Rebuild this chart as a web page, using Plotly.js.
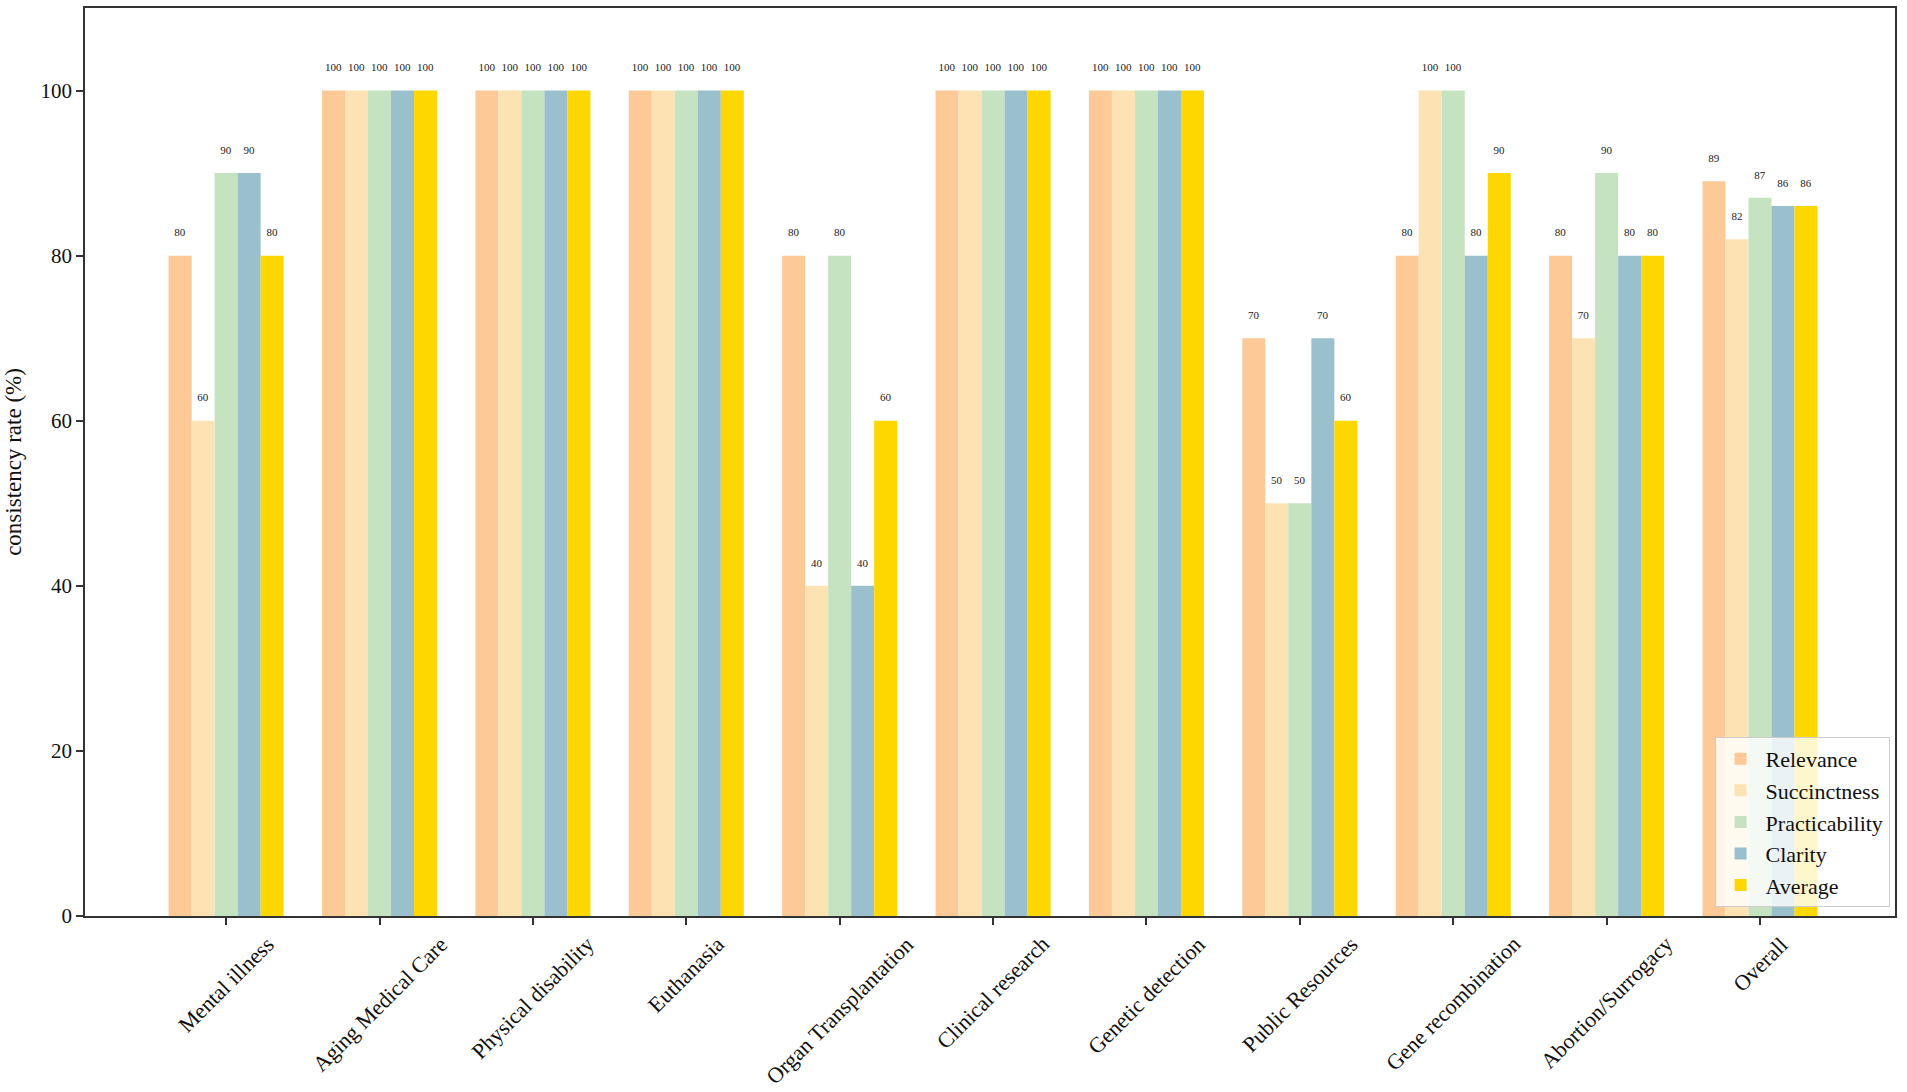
<!DOCTYPE html>
<html>
<head>
<meta charset="utf-8">
<script src="https://cdn.plot.ly/plotly-3.0.1.min.js"></script>
<style>
  body { margin: 0; background: #fff; }
  #chart { width: 1907px; height: 1092px; }
</style>
</head>
<body>
<div id="chart"></div>
<script>
// topics on the x axis
let categories = ['Mental illness', 'Aging Medical Care', 'Physical disability', 'Euthanasia',
  'Organ Transplantation', 'Clinical research', 'Genetic detection', 'Public Resources',
  'Gene recombination', 'Abortion/Surrogacy', 'Overall'];

// consistency rate per metric (%)
let relevance      = [80, 100, 100, 100, 80, 100, 100, 70, 80, 80, 89];
let succinctness   = [60, 100, 100, 100, 40, 100, 100, 50, 100, 70, 82];
let practicability = [90, 100, 100, 100, 80, 100, 100, 50, 100, 90, 87];
let clarity        = [90, 100, 100, 100, 40, 100, 100, 70, 80, 80, 86];
let average        = [80, 100, 100, 100, 60, 100, 100, 60, 90, 80, 86];

let seriesNames = ['Relevance', 'Succinctness', 'Practicability', 'Clarity', 'Average'];
let seriesValues = [relevance, succinctness, practicability, clarity, average];
let colors = ['#fdc997', '#fde3b3', '#c5e2c1', '#9abfcd', '#fed700'];

let yTicks = [0, 20, 40, 60, 80, 100];

let serif = 'Liberation Serif, Times New Roman, serif';

let traces = [];
for (let i = 0; i < seriesNames.length; i++) {
  traces.push({
    type: 'bar',
    name: seriesNames[i],
    x: categories,
    y: seriesValues[i],
    marker: { color: colors[i], line: { width: 0 } },
    text: seriesValues[i].map(String),
    // an empty line under the value lifts the label clear of the bar top
    texttemplate: '%{text}<br> ',
    textposition: 'outside',
    constraintext: 'none',
    cliponaxis: false,
    textfont: { family: serif, size: 11, color: '#222' },
    hoverinfo: 'x+y+name'
  });
}

// x labels centred under each tick, rotated like the original
let labelNotes = categories.map(function (c) {
  return {
    x: c,
    xref: 'x',
    y: 0,
    yref: 'paper',
    yanchor: 'top',
    xanchor: 'center',
    yshift: -13,
    textangle: -45,
    showarrow: false,
    text: c,
    font: { family: serif, size: 22, color: '#111' }
  };
});

let layout = {
  width: 1907,
  height: 1092,
  margin: { l: 85, r: 12, t: 8, b: 176 },
  paper_bgcolor: '#fff',
  plot_bgcolor: '#fff',
  barmode: 'group',
  bargap: 0.25,
  bargroupgap: 0,
  font: { family: serif, color: '#111' },
  xaxis: {
    type: 'category',
    range: [-0.92, 10.88],
    showticklabels: false,
    ticks: 'outside',
    ticklen: 7,
    tickwidth: 1.5,
    tickcolor: '#333',
    showline: true,
    linecolor: '#333',
    linewidth: 1.5,
    mirror: true,
    showgrid: false,
    zeroline: false
  },
  yaxis: {
    range: [0, 110],
    tickvals: yTicks,
    ticktext: yTicks.map(String),
    tickfont: { family: serif, size: 21, color: '#111' },
    ticks: 'outside',
    ticklen: 7,
    tickwidth: 1.5,
    tickcolor: '#333',
    showline: true,
    linecolor: '#333',
    linewidth: 1.5,
    mirror: true,
    showgrid: false,
    zeroline: false,
    title: {
      text: 'consistency rate (%)',
      font: { family: serif, size: 23, color: '#111' },
      standoff: 12
    }
  },
  legend: {
    x: 0.997,
    y: 0.01,
    xanchor: 'right',
    yanchor: 'bottom',
    bgcolor: 'rgba(255,255,255,0.8)',
    bordercolor: '#cccccc',
    borderwidth: 1,
    font: { family: serif, size: 22, color: '#111' },
    tracegroupgap: 0,
    itemwidth: 40
  },
  annotations: labelNotes,
  showlegend: true
};

Plotly.newPlot('chart', traces, layout, { displayModeBar: false, responsive: false });
</script>
</body>
</html>
